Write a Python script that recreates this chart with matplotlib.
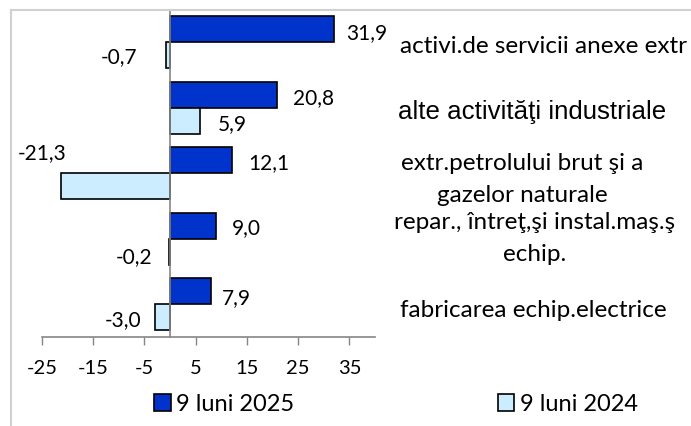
import matplotlib
matplotlib.use("Agg")
import matplotlib.pyplot as plt
from matplotlib.patches import Patch
from matplotlib.lines import Line2D

categories = [
    "activi.de servicii anexe extr",
    "alte activităţi industriale",
    "extr.petrolului brut şi a\ngazelor naturale",
    "repar., întreţ,şi instal.maş.ş\nechip.",
    "fabricarea echip.electrice",
]
vals_2025 = [31.9, 20.8, 12.1, 9.0, 7.9]
vals_2024 = [-0.7, 5.9, -21.3, -0.2, -3.0]
series_names = ["9 luni 2025", "9 luni 2024"]
xticks = [-25, -15, -5, 5, 15, 25, 35]

DARK = "#0033CC"
LIGHT = "#CCECFF"
GRAY = "#868686"
W, H = 691, 427

fig = plt.figure(figsize=(W / 100, H / 100), dpi=100)
ax = fig.add_axes([42 / W, 1 - 338 / H, (375 - 42) / W, (338 - 10.5) / H])

bh = 0.397
ys = list(range(len(categories)))
y_dark = [y - bh / 2 for y in ys]
y_light = [y + bh / 2 for y in ys]
ax.barh(y_dark, vals_2025, height=bh, color=DARK, edgecolor="black", linewidth=1.2, zorder=2)
ax.barh(y_light, vals_2024, height=bh, color=LIGHT, edgecolor="black", linewidth=1.2, zorder=2)

ax.set_xlim(-25, 40)
ax.set_ylim(len(categories) - 0.5, -0.5)
ax.set_xticks(xticks)
ax.set_xticklabels([str(t) for t in xticks], fontsize=14.5, family="Lato")
ax.tick_params(axis="x", direction="out", length=6, width=1, color=GRAY, pad=10)
ax.set_yticks([])
for s in ["top", "right"]:
    ax.spines[s].set_visible(False)
ax.spines["left"].set_position(("data", 0))
for s in ["left", "bottom"]:
    ax.spines[s].set_color(GRAY)
    ax.spines[s].set_linewidth(1.2)
    ax.spines[s].set_zorder(3)

# value labels: (dx, dy) pixel offsets from bar end (x right, y down), alignment
fmt = lambda v: f"{v:.1f}".replace(".", ",")
off_dark = [(13, 3), (16, 2), (16, 2), (16, 1), (11, 6)]
off_light = [(-29, 1, "right"), (17, 2, "left"), (-19, -34, "center"), (-17, 4, "right"), (-13, 2, "right")]
for y, v, (dx, dy) in zip(y_dark, vals_2025, off_dark):
    ax.annotate(fmt(v), xy=(v, y), xytext=(dx, -dy), textcoords="offset pixels",
                ha="left", va="center", fontsize=15, family="Lato")
for y, v, (dx, dy, ha) in zip(y_light, vals_2024, off_light):
    ax.annotate(fmt(v), xy=(v, y), xytext=(dx, -dy), textcoords="offset pixels",
                ha=ha, va="center", fontsize=15, family="Lato")

# category labels on the right
lab_x = [400, 398, 401, 394, 400]
lab_dy = [3, 3, 5, -1, 5]
lab_font = ["Lato", "Liberation Sans", "Lato", "Lato", "Lato"]
lab_size = [17.5, 18.6, 17.5, 17.5, 17.5]
lab_ls = [1.2, 1.2, 1.67, 1.67, 1.2]
for i, (c, lx, dy, fam, fs, ls) in enumerate(zip(categories, lab_x, lab_dy, lab_font, lab_size, lab_ls)):
    ax.annotate(c, xy=(0, ys[i]), xycoords=("figure pixels", "data"),
                xytext=(lx, -dy), textcoords=("figure pixels", "offset pixels"),
                ha="left", va="center", multialignment="center",
                fontsize=fs, family=fam, linespacing=ls, annotation_clip=False)

# chart border (partially visible)
fig.add_artist(Line2D([10.5 / W, 10.5 / W], [0, 1 - 10.5 / H], transform=fig.transFigure,
                      color="#D0D0D0", linewidth=1.5))
fig.add_artist(Line2D([10.5 / W, 1], [1 - 10.5 / H, 1 - 10.5 / H], transform=fig.transFigure,
                      color="#D0D0D0", linewidth=1.5))

handles = [Patch(facecolor=DARK, edgecolor="black", linewidth=1.2),
           Patch(facecolor=LIGHT, edgecolor="black", linewidth=1.2)]
fig.legend(handles, series_names, loc="center left", bbox_to_anchor=(154 / W, 1 - 405 / H),
           ncol=2, frameon=False, borderpad=0, borderaxespad=0, handlelength=0.7,
           handleheight=0.7, handletextpad=0.25, columnspacing=8.6,
           prop={"family": "Lato", "size": 17})

fig.savefig("out.png", dpi=100)
